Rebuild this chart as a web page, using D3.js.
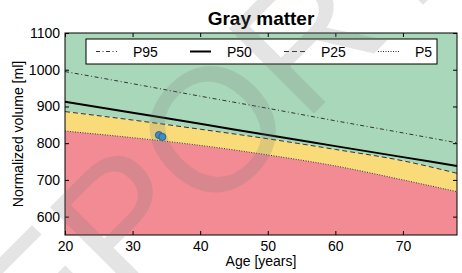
<!DOCTYPE html>
<html lang="en">
<head>
    <meta charset="UTF-8">
    <title>Gray matter</title>
    <script src="https://d3js.org/d3.v7.min.js"></script>
    <style>
        html, body {
            margin: 0;
            background: #fff;
            font-family: "Liberation Sans", Arial, sans-serif;
        }
        .axis text { font-size: 14px; fill: #000; font-family: "Liberation Sans", Arial, sans-serif; }
        .axis line { stroke: #000; }
        .axis path { display: none; }
    </style>
</head>
<body>
<div id="vis"></div>
<script>
    // data
    var ages = [20, 30, 40, 50, 60, 70, 78];
    var p95 = [995, 962, 928, 895, 861, 828, 801];
    var p50 = [913, 883, 853, 822, 792, 762, 738];
    var p25 = [886, 863, 838, 812, 783, 752, 718];
    var p5  = [833, 815, 794, 768, 738, 700, 668];
    var subjectAge = [33.9, 34.4];
    var subjectVol = [822, 817];
    var xTicks = [20, 30, 40, 50, 60, 70];
    var yTicks = [600, 700, 800, 900, 1000, 1100];
    var legendNames = ["P95", "P50", "P25", "P5"];

    var W = 462, H = 273;
    var margin = {top: 33, right: 5, bottom: 38, left: 65};
    var width = W - margin.left - margin.right;
    var height = H - margin.top - margin.bottom;

    var svg = d3.select('#vis').append('svg')
        .attr('width', W)
        .attr('height', H);

    var g = svg.append('g')
        .attr('transform', 'translate(' + margin.left + ',' + margin.top + ')');

    var x = d3.scaleLinear().domain([20, 78]).range([0, width]);
    var y = d3.scaleLinear().domain([550, 1100]).range([height, 0]);

    var rows = ages.map(function(a, i) {
        return {age: a, p95: p95[i], p50: p50[i], p25: p25[i], p5: p5[i]};
    });

    // coloured bands
    var green = d3.area().x(function(d) { return x(d.age); })
        .y0(function(d) { return y(d.p25); }).y1(0).curve(d3.curveMonotoneX);
    var yellow = d3.area().x(function(d) { return x(d.age); })
        .y0(function(d) { return y(d.p5); }).y1(function(d) { return y(d.p25); }).curve(d3.curveMonotoneX);
    var red = d3.area().x(function(d) { return x(d.age); })
        .y0(height).y1(function(d) { return y(d.p5); }).curve(d3.curveMonotoneX);

    g.append('path').datum(rows).attr('fill', '#a8d7b9').attr('d', green);
    g.append('path').datum(rows).attr('fill', '#f9db79').attr('d', yellow);
    g.append('path').datum(rows).attr('fill', '#f28b94').attr('d', red);

    // percentile lines
    var styles = {
        p95: {w: 1, dash: '4,2.5,1,2.5', c: '#333'},
        p50: {w: 2, dash: null, c: '#000'},
        p25: {w: 1, dash: '5,3', c: '#333'},
        p5:  {w: 1, dash: '1,1.5', c: '#333'}
    };
    ['p95', 'p50', 'p25', 'p5'].forEach(function(k) {
        var line = d3.line()
            .x(function(d) { return x(d.age); })
            .y(function(d) { return y(d[k]); })
            .curve(d3.curveMonotoneX);
        g.append('path').datum(rows)
            .attr('fill', 'none')
            .attr('stroke', styles[k].c)
            .attr('stroke-width', styles[k].w)
            .attr('stroke-dasharray', styles[k].dash)
            .attr('d', line);
    });

    // subject points
    g.selectAll('circle.pt').data(subjectAge).enter().append('circle')
        .attr('class', 'pt')
        .attr('cx', function(d) { return x(d); })
        .attr('cy', function(d, i) { return y(subjectVol[i]); })
        .attr('r', 3.6)
        .attr('fill', '#2d93d8')
        .attr('stroke', '#1b4a70')
        .attr('stroke-width', 0.8);

    // axes with inward ticks on all sides
    g.append('g').attr('class', 'axis')
        .attr('transform', 'translate(0,' + height + ')')
        .call(d3.axisBottom(x).tickValues(xTicks).tickSizeInner(-4).tickSizeOuter(0).tickPadding(6));
    g.append('g').attr('class', 'axis')
        .call(d3.axisTop(x).tickValues(xTicks).tickSizeInner(-4).tickSizeOuter(0).tickFormat(''));
    g.append('g').attr('class', 'axis')
        .call(d3.axisLeft(y).tickValues(yTicks).tickSizeInner(-4).tickSizeOuter(0).tickPadding(5)
            .tickFormat(d3.format('d')));
    g.append('g').attr('class', 'axis')
        .attr('transform', 'translate(' + width + ',0)')
        .call(d3.axisRight(y).tickValues(yTicks).tickSizeInner(-4).tickSizeOuter(0).tickFormat(''));

    g.append('rect')
        .attr('width', width).attr('height', height)
        .attr('fill', 'none').attr('stroke', '#000').attr('stroke-width', 1);

    // legend
    var leg = g.append('g').attr('transform', 'translate(21,6)');
    leg.append('rect')
        .attr('width', 351).attr('height', 25)
        .attr('fill', '#fff').attr('stroke', '#000').attr('stroke-width', 1);
    var keys = ['p95', 'p50', 'p25', 'p5'];
    legendNames.forEach(function(name, i) {
        var ox = 10 + i * 94;
        var s = styles[keys[i]];
        leg.append('line')
            .attr('x1', ox).attr('x2', ox + 21)
            .attr('y1', 12.5).attr('y2', 12.5)
            .attr('stroke', s.c).attr('stroke-width', s.w)
            .attr('stroke-dasharray', s.dash);
        leg.append('text')
            .attr('x', ox + 37).attr('y', 17.5)
            .attr('font-size', 14)
            .text(name);
    });

    // titles
    svg.append('text')
        .attr('x', margin.left + width / 2).attr('y', 25)
        .attr('text-anchor', 'middle')
        .attr('font-size', 19).attr('font-weight', 'bold')
        .text('Gray matter');
    svg.append('text')
        .attr('x', margin.left + width / 2).attr('y', 266)
        .attr('text-anchor', 'middle')
        .attr('font-size', 14)
        .text('Age [years]');
    svg.append('text')
        .attr('transform', 'translate(23,' + (margin.top + height / 2) + ') rotate(-90)')
        .attr('text-anchor', 'middle')
        .attr('font-size', 14)
        .text('Normalized volume [ml]');

    // watermark
    svg.append('text')
        .attr('transform', 'translate(167,175) rotate(-45)')
        .attr('text-anchor', 'middle')
        .attr('dominant-baseline', 'central')
        .attr('font-size', 175)
        .attr('fill', '#777')
        .attr('fill-opacity', 0.2)
        .text('REPORT');
</script>
</body>
</html>
